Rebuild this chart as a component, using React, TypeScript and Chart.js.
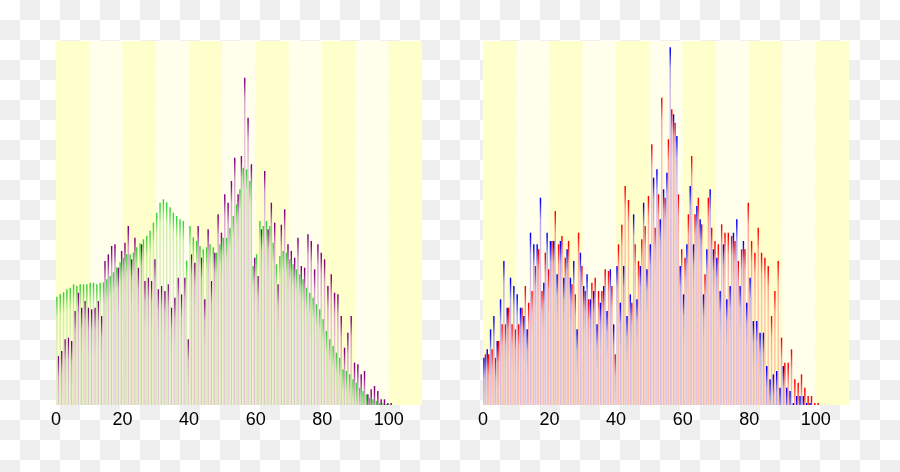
import React, { useEffect, useRef } from "react";
import { Chart, registerables } from "chart.js";

Chart.register(...registerables);

// ---------- data ----------
const AGE_SLOTS = Array.from({ length: 110 }, (_, i) => String(i)); // 0..109 category slots
const X_TICKS_STEP = 20;
const X_MIN = 0;
const X_MAX = 110;
const DECADE_EDGES = [0, 10, 20, 30, 40, 50, 60, 70, 80, 90, 100, 110];
const Y_MAX = 364;

// left panel: national profile (green), municipality total (purple)
const nationalProfile = [
  108.3, 111, 112.7, 115.7, 117.3, 120.7, 119, 120.7, 120.7, 120.7,
  122.3, 122.3, 120.7, 122.3, 122.7, 125.7, 129, 132.7, 137.7, 142.7,
  147.3, 150.7, 150.7, 152.3, 157.7, 161.7, 165.7, 169.3, 174.3, 182.3,
  192.3, 202.3, 205.7, 202.7, 197.7, 192.3, 189, 185.7, 184, 144.3,
  179, 167.7, 164, 159, 155.7, 157.7, 160.7, 157.7, 152.3, 160.7,
  167.3, 167.3, 177.3, 189, 200.7, 215.7, 237.3, 235.7, 224, 139,
  150.7, 184, 179, 184, 179, 162.3, 140.7, 149, 154, 152.3,
  145.7, 140.7, 135.7, 130.7, 125.7, 117.3, 112.3, 107.3, 100.7, 95.7,
  85.7, 74, 65.7, 59, 52.3, 47.3, 35.7, 34, 30.7, 25.7,
  22.3, 17.3, 14, 10.7, 7.3, 5.7, 4, 2.3, 1.7, 1, 0.7,
];

const localTotal = [
  49, 54, 65.7, 67.3, 64, 94, 112.3, 97.3, 104, 97.3,
  95.7, 97.3, 104, 89, 144, 150.7, 159, 160.7, 137.3, 154,
  162.3, 179, 145.7, 167.3, 137.3, 160.7, 124, 127.3, 124, 145.7,
  115.7, 119, 114, 120.7, 97.3, 107.3, 127.3, 110.7, 127.3, 65.7,
  150.7, 142.3, 179, 147.3, 105.7, 175.7, 124, 152.3, 190.7, 172.3,
  210.7, 202.3, 224, 247.3, 210.7, 249, 327.3, 287.3, 240.7, 147.3,
  129, 175.7, 234, 175.7, 202.3, 182.3, 120.7, 180.3, 195.7, 160.7,
  154, 147.3, 167.3, 139, 137.3, 170.7, 164, 135.7, 160.7, 152.3,
  145.7, 119, 130.7, 112.3, 110.7, 89, 57.3, 72.3, 89, 42.3,
  40.7, 30.7, 34, 10.7, 15.7, 19, 14, 5.7, 5.7, 2, 2,
];

// right panel: male (blue), female (red)
const male = [
  47.3, 55.7, 75.7, 89, 64, 105.7, 144, 97.3, 127.3, 119,
  110.7, 97.3, 89, 75.7, 172.3, 160.7, 160.7, 207.3, 122.3, 172.3,
  164, 164, 130.7, 164, 127.3, 155.7, 127.3, 144, 75.7, 152.3,
  119, 130.7, 105.7, 114, 80.7, 102.3, 119, 94, 135.7, 80.7,
  139, 102.3, 139, 89, 110.7, 190.7, 105.7, 139, 202.3, 135.7,
  160.7, 227.3, 235.7, 185.7, 215.7, 232.3, 357.7, 290.7, 269, 139,
  110.7, 160.7, 219, 160.7, 199, 185.7, 110.7, 155.7, 215.7, 155.7,
  147.3, 114, 160.7, 105.7, 119, 172.3, 185.7, 119, 164, 102.3,
  127.3, 84, 84, 72.3, 72.3, 39, 25.7, 30.7, 34, 17.3,
  39, 17.3, 14, 2, 9, 9, 9, 2, 2, 0, 0,
];

const female = [
  50.7, 50.7, 55.7, 47.3, 64, 80.7, 80.7, 97.3, 80.7, 75.7,
  80.7, 97.3, 119, 102.3, 114, 139, 155.7, 114, 152.3, 135.7,
  164, 194, 160.7, 169, 147.3, 164, 120.7, 110.7, 172.3, 139,
  114, 105.7, 122.3, 127.3, 114, 114, 135.7, 134, 119, 50.7,
  160.7, 180.3, 219, 205, 102.3, 160.7, 144, 165.7, 179, 209,
  260.7, 177.3, 210.7, 307.3, 207.3, 265.7, 295.7, 282.3, 210.7, 155.7,
  147.3, 190.7, 249, 190.7, 207.3, 180.7, 130.7, 207.3, 177.3, 164,
  160.7, 180.7, 172.3, 172.3, 169, 164, 144, 155.7, 155.7, 202.3,
  164, 152.3, 177.3, 152.3, 147.3, 139, 89, 114, 144, 67.3,
  42.3, 42.3, 55.7, 25.7, 22.3, 30.7, 17.3, 9, 9, 2, 2,
];

// ---------- styling ----------
const BAND_DARK = "#ffffcc";
const BAND_LIGHT = "#ffffec";
const FONT = '"Liberation Sans", Arial, sans-serif';

function fadeFill(top: string, mid: string, light: string) {
  return (c: any) => {
    const chart = c.chart;
    const yScale = chart.scales && chart.scales.y;
    if (c.type !== "data" || !yScale || !chart.chartArea) return light;
    const y0 = yScale.getPixelForValue(c.raw);
    const g = chart.ctx.createLinearGradient(0, y0, 0, y0 + 48);
    g.addColorStop(0, top);
    g.addColorStop(0.08, top);
    g.addColorStop(0.45, mid);
    g.addColorStop(1, light);
    return g;
  };
}

const bandsPlugin = {
  id: "decadeBands",
  beforeDatasetsDraw(chart: any) {
    const { ctx, chartArea, scales } = chart;
    const xs = scales.x2;
    ctx.save();
    for (let i = 0; i < DECADE_EDGES.length - 1; i++) {
      const x0 = xs.getPixelForValue(DECADE_EDGES[i]);
      const x1 = xs.getPixelForValue(DECADE_EDGES[i + 1]);
      ctx.fillStyle = i % 2 === 0 ? BAND_DARK : BAND_LIGHT;
      ctx.fillRect(x0, chartArea.top, x1 - x0, chartArea.bottom - chartArea.top);
    }
    ctx.restore();
  },
};

function makeChart(canvas: HTMLCanvasElement, datasets: any[], padLeft: number, padRight: number) {
  return new Chart(canvas, {
    type: "bar",
    data: { labels: AGE_SLOTS, datasets },
    plugins: [bandsPlugin],
    options: {
      responsive: false,
      animation: false,
      devicePixelRatio: 1,
      layout: { padding: { left: padLeft, right: padRight, top: 41, bottom: 37 } },
      plugins: { legend: { display: false }, tooltip: { enabled: false } },
      datasets: { bar: { categoryPercentage: 0.9, barPercentage: 0.95, borderWidth: 0 } },
      scales: {
        x: { type: "category", display: false, offset: true, grid: { display: false } },
        x2: {
          type: "linear",
          position: "bottom",
          min: X_MIN,
          max: X_MAX,
          offset: false,
          grid: { display: false, drawTicks: false },
          border: { display: false },
          ticks: {
            stepSize: X_TICKS_STEP,
            includeBounds: false,
            padding: 4,
            color: "#000",
            maxRotation: 0,
            autoSkip: false,
            font: { family: FONT, size: 18 },
          },
          afterFit: (s: any) => {
            s.height = 30;
          },
        },
        y: { display: false, min: 0, max: Y_MAX },
      },
    } as any,
  });
}

export default function App() {
  const leftRef = useRef<HTMLCanvasElement>(null);
  const rightRef = useRef<HTMLCanvasElement>(null);

  useEffect(() => {
    const left = makeChart(
      leftRef.current!,
      [
        { data: nationalProfile, backgroundColor: fadeFill("#3ccf3c", "#c8f0a0", "#d8ecbc") },
        { data: localTotal, backgroundColor: fadeFill("#800080", "#d49cc8", "#e4c2d6") },
      ],
      56,
      28
    );
    const right = makeChart(
      rightRef.current!,
      [
        { data: male, backgroundColor: fadeFill("#0000ff", "#a8a0f0", "#d6bee6") },
        { data: female, backgroundColor: fadeFill("#ff0000", "#ff9c8c", "#ffc0a8") },
      ],
      33,
      51
    );
    return () => {
      left.destroy();
      right.destroy();
    };
  }, []);

  return (
    <div
      style={{
        position: "absolute",
        left: 0,
        top: 0,
        width: 900,
        height: 472,
        overflow: "hidden",
        background: "repeating-conic-gradient(#efefef 0 25%, #ffffff 0 50%) 0 0 / 40px 40px",
      }}
    >
      <canvas ref={leftRef} width={450} height={472} style={{ position: "absolute", left: 0, top: 0 }} />
      <canvas ref={rightRef} width={450} height={472} style={{ position: "absolute", left: 450, top: 0 }} />
    </div>
  );
}
